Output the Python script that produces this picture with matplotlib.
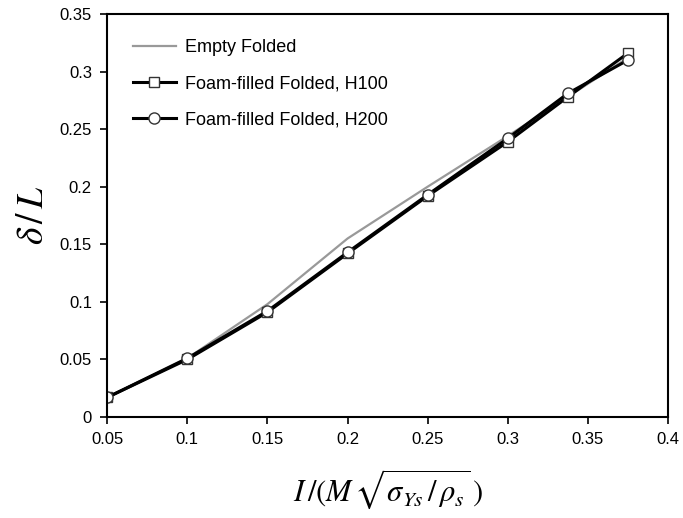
import matplotlib
matplotlib.use("Agg")
import matplotlib.pyplot as plt

plt.rcParams['font.family'] = ['Liberation Sans', 'DejaVu Sans']
plt.rcParams['mathtext.fontset'] = 'stix'

# data
x = [0.05, 0.1, 0.15, 0.2, 0.25, 0.3, 0.3375, 0.375]
empty = [0.017, 0.051, 0.098, 0.155, 0.200, 0.244, 0.278, 0.312]
h100 = [0.017, 0.050, 0.091, 0.142, 0.192, 0.239, 0.278, 0.316]
h200 = [0.017, 0.051, 0.092, 0.143, 0.193, 0.242, 0.281, 0.310]

fig = plt.figure(figsize=(6.83, 5.18), dpi=100)
ax = fig.add_axes([0.157, 0.195, 0.821, 0.778])

ax.plot(x, empty, color='#999999', linewidth=1.6, label='Empty Folded')
ax.plot(x, h100, color='black', linewidth=2.2, marker='s', markersize=7,
        markerfacecolor='white', markeredgecolor='#333333', markeredgewidth=1,
        label='Foam-filled Folded, H100')
ax.plot(x, h200, color='black', linewidth=2.2, marker='o', markersize=8,
        markerfacecolor='white', markeredgecolor='#333333', markeredgewidth=1,
        label='Foam-filled Folded, H200')

ax.set_xlim(0.05, 0.4)
ax.set_ylim(0, 0.35)
ax.set_xticks([0.05, 0.1, 0.15, 0.2, 0.25, 0.3, 0.35, 0.4])
ax.set_xticklabels(['0.05', '0.1', '0.15', '0.2', '0.25', '0.3', '0.35', '0.4'])
ax.set_yticks([0, 0.05, 0.1, 0.15, 0.2, 0.25, 0.3, 0.35])
ax.set_yticklabels(['0', '0.05', '0.1', '0.15', '0.2', '0.25', '0.3', '0.35'])
ax.tick_params(labelsize=12, direction='out', length=5, width=1.2, pad=6)
for s in ax.spines.values():
    s.set_linewidth(1.5)

ax.set_xlabel(r'$I\,/(M\,\sqrt{\sigma_{Ys}\,/\,\rho_s}\,)$', fontsize=22, labelpad=14)
ax.set_ylabel(r'$\delta\,/\,L$', fontsize=27, labelpad=6)

ax.legend(loc='upper left', frameon=False, fontsize=13, handlelength=2.4,
          handletextpad=0.5, labelspacing=1.05, borderaxespad=1.0)

fig.savefig('out.png', dpi=100)
